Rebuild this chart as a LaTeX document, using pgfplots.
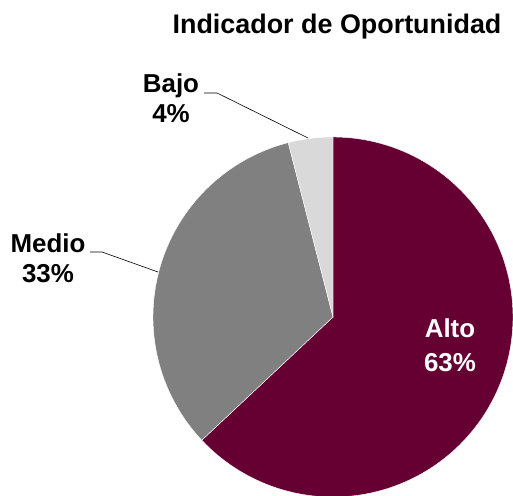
\documentclass[border=0pt]{standalone}
\usepackage{fontspec}
\setmainfont{Liberation Sans}
\usepackage{pgfplots}
\pgfplotsset{compat=1.18}
\usepgfplotslibrary{polar}

\definecolor{alto}{HTML}{660033}
\definecolor{medio}{HTML}{808080}
\definecolor{bajo}{HTML}{D9D9D9}

% shares in percent
\def\valAlto{63}
\def\valMedio{33}
\def\valBajo{4}

\begin{document}
\begin{tikzpicture}[x=1bp,y=1bp]
\useasboundingbox (0,0) rectangle (513,496);
\pgfmathsetmacro\aA{90}
\pgfmathsetmacro\aB{\aA-3.6*\valAlto}
\pgfmathsetmacro\aC{\aB-3.6*\valMedio}
\pgfmathsetmacro\aD{\aC-3.6*\valBajo}
\begin{polaraxis}[
    at={(333bp,179bp)}, anchor=center,
    width=360bp, height=360bp, scale only axis,
    ymin=0, ymax=1, hide axis, clip=false,
    samples=120,
]
\addplot[draw=white, line width=0.4pt, fill=alto, domain=\aA:\aB] {1} -- (axis cs:0,0) -- cycle;
\addplot[draw=white, line width=0.4pt, fill=medio, domain=\aB:\aC] {1} -- (axis cs:0,0) -- cycle;
\addplot[draw=white, line width=0.4pt, fill=bajo, domain=\aC:\aD] {1} -- (axis cs:0,0) -- cycle;
\end{polaraxis}

% title
\node[anchor=base, font=\fontsize{27}{32}\selectfont\bfseries] at (337,462) {Indicador de Oportunidad};

% labels
\node[anchor=base, font=\fontsize{26}{30}\selectfont\bfseries] at (171,403) {Bajo};
\node[anchor=base, font=\fontsize{26}{30}\selectfont\bfseries] at (171,373) {\valBajo\%};
\node[anchor=base, font=\fontsize{26}{30}\selectfont\bfseries] at (48,243) {Medio};
\node[anchor=base, font=\fontsize{26}{30}\selectfont\bfseries] at (48,213) {\valMedio\%};
\node[anchor=base, text=white, font=\fontsize{26}{30}\selectfont\bfseries] at (450,158) {Alto};
\node[anchor=base, text=white, font=\fontsize{26}{30}\selectfont\bfseries] at (450,124) {\valAlto\%};

% leader lines
\draw[line width=0.6pt] (204,403) -- (217,403) -- (308,358);
\draw[line width=0.6pt] (90,244) -- (102,244) -- (158,224);
\end{tikzpicture}
\end{document}
